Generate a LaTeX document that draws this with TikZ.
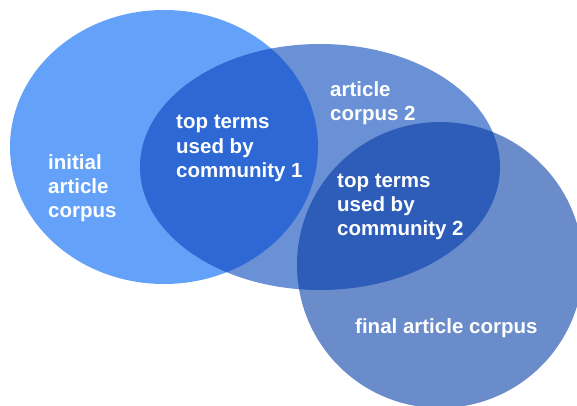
\documentclass[tikz,border=0pt]{standalone}
\usepackage{fontspec}
\setmainfont{Liberation Sans}
\definecolor{initialcolor}{HTML}{64A2F9}
\definecolor{secondcolor}{HTML}{6A90D6}
\definecolor{finalcolor}{HTML}{6A8CCB}
\definecolor{overlapone}{HTML}{2D68D4}
\definecolor{overlaptwo}{HTML}{2D5DB9}
\tikzset{
  venn label/.style={text=white,font=\fontsize{20.5}{24}\selectfont\bfseries,
    align=left,inner sep=0pt,anchor=base west}
}

\begin{document}
\begin{tikzpicture}[x=1pt,y=-1pt]
  \useasboundingbox (0,0) rectangle (577,406);
  \def\initialset{(164,147) ellipse [x radius=154,y radius=137]}
  \def\secondset{(320,167) ellipse [x radius=180,y radius=123]}
  \def\finalset{(440,265) ellipse [x radius=143,y radius=143]}
  \fill[initialcolor] \initialset;
  \fill[secondcolor] \secondset;
  \fill[finalcolor] \finalset;
  % overlaps
  \begin{scope}
    \clip \initialset;
    \fill[overlapone] \secondset;
  \end{scope}
  \begin{scope}
    \clip \secondset;
    \fill[overlaptwo] \finalset;
  \end{scope}
  % base is the last line
  \node[venn label] (initial) at (48,217) {initial\\article\\corpus};
  \node[venn label] (terms1) at (176,177) {top terms\\used by\\community 1};
  \node[venn label] (corpus2) at (330,121) {article\\corpus 2};
  \node[venn label] (terms2) at (337,235) {top terms\\used by\\community 2};
  \node[venn label] (final) at (355,333) {final article corpus};
\end{tikzpicture}
\end{document}
